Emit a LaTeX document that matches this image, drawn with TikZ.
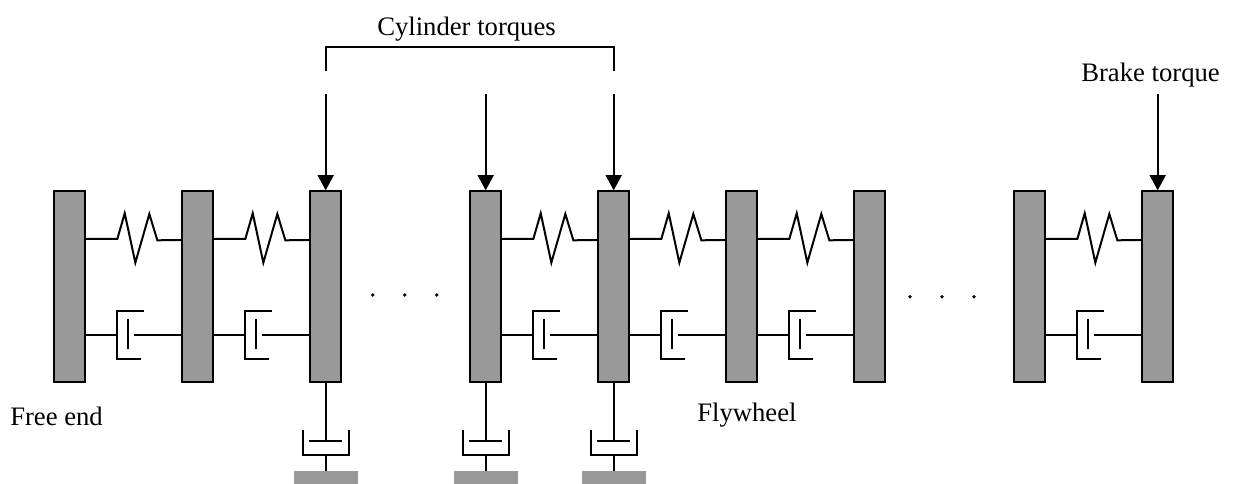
\documentclass[tikz,border=0pt]{standalone}
\usepackage{fontspec}
\setmainfont{Liberation Serif}
\usetikzlibrary{arrows.meta,calc}
\definecolor{diskgray}{HTML}{999999}
\tikzset{
  disk/.style={draw=black,fill=diskgray,line width=1.5pt,minimum width=23pt,minimum height=143pt,inner sep=0pt},
  groundblock/.style={fill=diskgray,minimum width=48pt,minimum height=9.75pt,inner sep=0pt,outer sep=0pt},
  lbl/.style={font=\fontsize{20}{24}\selectfont,inner sep=0pt,text=black,anchor=base west},
  conn/.style={line width=1.5pt,line join=miter,black},
  force/.style={line width=1.5pt,black,-{Triangle[length=11.5pt,width=12pt]}},
  dotmark/.style={circle,fill=black,inner sep=0pt,minimum size=2.8pt},
}
% spring and parallel damper between two neighbouring disks
\newcommand{\springdamper}[2]{%
  \draw[conn] (#1.east |- 0,239) -- ++(31.3,0) -- ++(7.4,-25.7) -- ++(10.6,49.4) -- ++(14,-48.7) -- ++(8,26.3) -- (#2.west |- 0,240);
  \draw[conn] (#1.east |- 0,335) -- ++(31.3,0);
  \draw[conn] ($(#1.east |- 0,311)+(58,0)$) -- ++(-26.7,0) -- ++(0,47.7) -- ++(24,0);
  \draw[conn] ($(#1.east |- 0,319.3)+(42.3,0)$) -- ++(0,29.4);
  \draw[conn] ($(#1.east |- 0,335)+(48,0)$) -- (#2.west |- 0,335);
}
% rotary damper from a disk to its ground block
\newcommand{\grounddamper}[2]{%
  \draw[conn] (#1.south) -- ($(#1.south |- 0,441.3)$);
  \draw[conn] ($(#1.south |- 0,441.3)+(-16.5,0)$) -- ++(33,0);
  \draw[conn] ($(#1.south |- 0,430.3)+(-23,0)$) -- ++(0,24.4) -- ++(46,0) -- ++(0,-24.4);
  \draw[conn] ($(#1.south |- 0,454.7)$) -- (#2.north);
}
\begin{document}
\begin{tikzpicture}[x=0.75pt,y=-0.75pt]
\useasboundingbox (0,0) rectangle (1236,484);
\foreach \n/\x in {d1/69.7,d2/197.7,d3/325.7,d4/485.7,d5/613.7,d6/741.7,d7/869.7,d8/1029.7,d9/1157.7}
  \node[disk] (\n) at (\x,286.7) {};
\foreach \a/\b in {d1/d2,d2/d3,d4/d5,d5/d6,d6/d7,d8/d9}
  \springdamper{\a}{\b}
\foreach \n/\d in {g3/d3,g4/d4,g5/d5}
  \node[groundblock] (\n) at (\d.south |- 0,477.5) {};
\foreach \d/\g in {d3/g3,d4/g4,d5/g5}
  \grounddamper{\d}{\g}
% torques
\coordinate (a3) at (325.7,94);
\coordinate (a4) at (485.7,94);
\coordinate (a5) at (613.7,94);
\coordinate (a9) at (1157.7,94);
\coordinate (b3) at (325.7,71);
\coordinate (b5) at (613.7,71);
\coordinate (t3) at (325.7,47);
\coordinate (t5) at (613.7,47);
\foreach \c/\d in {a3/d3,a4/d4,a5/d5,a9/d9}
  \draw[force] (\c) -- (\d.north);
\draw[conn] (b3) -- (t3) -- (t5) -- (b5);
% dots
\foreach \n/\x/\y in {p1/372.7/295,p2/404.7/295,p3/436.7/295,p4/910/296.7,p5/942/296.7,p6/974/296.7}
  \node[dotmark] (\n) at (\x,\y) {};
% labels
\node[lbl] (ct) at (377,35.5) {Cylinder torques};
\node[lbl] (bt) at (1081,82) {Brake torque};
\node[lbl] (fe) at (10,426) {Free end};
\node[lbl] (fw) at (697,421.5) {Flywheel};
\end{tikzpicture}
\end{document}
